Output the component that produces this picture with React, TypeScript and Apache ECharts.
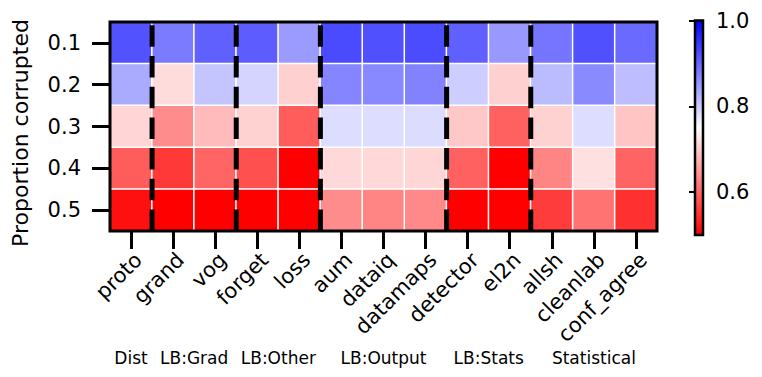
import React, { useEffect, useRef } from "react";
import * as echarts from "echarts";

const methods = ["proto", "grand", "vog", "forget", "loss", "aum", "dataiq", "datamaps", "detector", "el2n", "allsh", "cleanlab", "conf_agree"];
const proportions = ["0.1", "0.2", "0.3", "0.4", "0.5"];
const groupNames = ["Dist", "LB:Grad", "LB:Other", "LB:Output", "LB:Stats", "Statistical"];
const groupSizes = [1, 2, 2, 3, 2, 3];
const colorbarTicks = [0.6, 0.8, 1.0];

const scoreP01 = [0.920, 0.879, 0.906, 0.910, 0.849, 0.927, 0.922, 0.925, 0.906, 0.851, 0.885, 0.922, 0.896];
const scoreP02 = [0.833, 0.716, 0.808, 0.792, 0.704, 0.870, 0.867, 0.873, 0.799, 0.704, 0.817, 0.865, 0.815];
const scoreP03 = [0.709, 0.637, 0.683, 0.706, 0.590, 0.783, 0.783, 0.784, 0.696, 0.594, 0.706, 0.783, 0.692];
const scoreP04 = [0.590, 0.555, 0.599, 0.578, 0.500, 0.713, 0.713, 0.710, 0.594, 0.500, 0.629, 0.720, 0.598];
const scoreP05 = [0.516, 0.500, 0.500, 0.500, 0.500, 0.637, 0.630, 0.633, 0.500, 0.500, 0.559, 0.613, 0.547];
const scoreRows = [scoreP01, scoreP02, scoreP03, scoreP04, scoreP05];

const FONT = "DejaVu Sans";
const GRID = { left: 110, top: 22, width: 547, height: 209 };
const CBAR = { left: 695, top: 20.5, width: 8, height: 214.5 };

export default function App() {
  const ref = useRef<HTMLDivElement>(null);

  useEffect(() => {
    document.body.style.margin = "0";
    if (!ref.current) return;
    const chart = echarts.init(ref.current, undefined, { renderer: "svg" });

    const heatData: number[][] = [];
    scoreRows.forEach((row, yi) => row.forEach((v, xi) => heatData.push([xi, yi, v])));

    const boundaries: number[] = [];
    let acc = 0;
    groupSizes.slice(0, -1).forEach((s) => {
      acc += s;
      boundaries.push(acc);
    });

    const lineSeries = boundaries.map((b) => ({
      type: "line",
      xAxisIndex: 1,
      yAxisIndex: 1,
      data: [
        [b, 0],
        [b, proportions.length],
      ],
      symbol: "none",
      silent: true,
      z: 5,
      lineStyle: { color: "#000", width: 5, type: [21.5, 9.2], cap: "butt" },
    }));

    const groupTexts: any[] = [];
    let start = 0;
    groupNames.forEach((name, i) => {
      const center = start + groupSizes[i] / 2;
      start += groupSizes[i];
      groupTexts.push({
        type: "text",
        x: GRID.left + (GRID.width * center) / methods.length,
        y: 358,
        style: {
          text: name,
          fontSize: 17,
          fontFamily: FONT,
          fill: "#000",
          align: "center",
          verticalAlign: "middle",
        },
      });
    });

    const option: any = {
      animation: false,
      grid: [
        { left: GRID.left, top: GRID.top, width: GRID.width, height: GRID.height },
        { left: CBAR.left, top: CBAR.top, width: CBAR.width, height: CBAR.height },
      ],
      xAxis: [
        {
          type: "category",
          gridIndex: 0,
          data: methods,
          position: "bottom",
          axisLine: { show: false },
          axisTick: { show: true, alignWithLabel: true, length: 18, lineStyle: { color: "#000", width: 3 } },
          axisLabel: {
            rotate: 45,
            interval: 0,
            fontSize: 21,
            color: "#000",
            fontFamily: FONT,
            margin: 18,
            align: "right",
            verticalAlign: "top",
          },
          splitLine: { show: false },
          splitArea: { show: false },
        },
        { type: "value", gridIndex: 0, min: 0, max: methods.length, show: false },
        { type: "value", gridIndex: 1, min: 0, max: 1, show: false },
      ],
      yAxis: [
        {
          type: "category",
          gridIndex: 0,
          data: proportions,
          inverse: true,
          axisLine: { show: false },
          axisTick: { show: true, alignWithLabel: true, length: 18, lineStyle: { color: "#000", width: 3 } },
          axisLabel: { fontSize: 21, color: "#000", fontFamily: FONT, margin: 29 },
          splitLine: { show: false },
          splitArea: { show: false },
        },
        { type: "value", gridIndex: 0, min: 0, max: proportions.length, show: false },
        {
          type: "value",
          gridIndex: 1,
          min: 0.5,
          max: 1.0,
          position: "left",
          axisLine: { show: false },
          splitLine: { show: false },
          axisTick: { show: true, customValues: colorbarTicks, length: 6, lineStyle: { color: "#000", width: 2 } },
          axisLabel: {
            inside: true,
            customValues: colorbarTicks,
            formatter: (v: number) => v.toFixed(1),
            margin: 21,
            fontSize: 21,
            color: "#000",
            fontFamily: FONT,
          },
        },
      ],
      visualMap: {
        type: "continuous",
        min: 0.5,
        max: 1.0,
        calculable: false,
        hoverLink: false,
        seriesIndex: 0,
        orient: "vertical",
        left: CBAR.left,
        top: CBAR.top,
        itemWidth: CBAR.width,
        itemHeight: CBAR.height,
        padding: 0,
        inRange: { color: ["#ff0000", "#ffffff", "#0000ff"] },
      },
      series: [
        {
          type: "heatmap",
          xAxisIndex: 0,
          yAxisIndex: 0,
          data: heatData,
          itemStyle: { borderColor: "#fff", borderWidth: 1.5 },
          emphasis: { disabled: true },
          z: 2,
        },
        ...lineSeries,
      ],
      graphic: [
        {
          type: "rect",
          z: 100,
          shape: { x: GRID.left, y: GRID.top, width: GRID.width, height: GRID.height },
          style: { fill: "rgba(0,0,0,0)", stroke: "#000", lineWidth: 3 },
          silent: true,
        },
        {
          type: "rect",
          z: 100,
          shape: { x: CBAR.left, y: CBAR.top, width: CBAR.width, height: CBAR.height },
          style: { fill: "rgba(0,0,0,0)", stroke: "#000", lineWidth: 2.5 },
          silent: true,
        },
        {
          type: "text",
          x: 20.5,
          y: 133,
          rotation: Math.PI / 2,
          style: {
            text: "Proportion corrupted",
            fontSize: 22,
            fontFamily: FONT,
            fill: "#000",
            align: "center",
            verticalAlign: "middle",
          },
        },
        ...groupTexts,
      ],
    };

    chart.setOption(option);
    return () => chart.dispose();
  }, []);

  return <div ref={ref} style={{ width: 762, height: 377 }} />;
}
